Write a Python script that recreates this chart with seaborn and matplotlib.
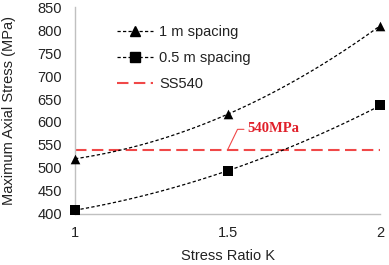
import numpy as np
import pandas as pd
import matplotlib
matplotlib.use("Agg")
import matplotlib.pyplot as plt
from matplotlib.lines import Line2D
from matplotlib.ticker import MultipleLocator
import seaborn as sns

# ---- data ----
stress_ratio = [1.0, 1.5, 2.0]
spacing_1m = [520, 617, 810]
spacing_05m = [408, 494, 636]
ss540_value = 540
series_labels = ["1 m spacing", "0.5 m spacing", "SS540"]
annotation_text = "540MPa"

sns.set_theme(style="white")
plt.rcParams["font.family"] = ["Liberation Sans", "DejaVu Sans"]

FS = 10.5
fig = plt.figure(figsize=(3.89, 2.65), dpi=100)
ax = fig.add_axes([0.193, 0.193, 0.785, 0.78])

dash = (2.6, 1.8)
for vals, mk in ((spacing_1m, "^"), (spacing_05m, "s")):
    # smoothed curve through the data points (quadratic, like Excel smoothed line)
    coef = np.polyfit(stress_ratio, vals, 2)
    sx = np.linspace(stress_ratio[0], stress_ratio[-1], 100)
    ax.plot(sx, np.polyval(coef, sx), color="black", lw=0.9, ls=(0, dash), zorder=2)
    sns.scatterplot(x=stress_ratio, y=vals, marker=mk, s=48, color="black",
                    edgecolor="black", linewidth=0, ax=ax, zorder=3, clip_on=False)

red = "#f04848"
red_dash = (0, (5.5, 2.6))
ax.axhline(ss540_value, color=red, lw=1.5, ls=red_dash, zorder=1)

# callout
ax.plot([1.5, 1.532, 1.553], [ss540_value, 584, 584], color=red, lw=0.8, zorder=2)
ax.text(1.565, 586, annotation_text, color="#e0202a", fontsize=FS, fontweight="bold",
        family=["Liberation Serif", "DejaVu Serif"], va="center", ha="left")

ax.set_xlim(1, 2)
ax.set_ylim(400, 850)
ax.set_xticks([1, 1.5, 2])
ax.set_xticklabels(["1", "1.5", "2"])
ax.xaxis.set_minor_locator(MultipleLocator(0.1))
ax.yaxis.set_major_locator(MultipleLocator(50))
ax.yaxis.set_minor_locator(MultipleLocator(10))

for s in ("top", "right"):
    ax.spines[s].set_visible(False)
for s in ("left", "bottom"):
    ax.spines[s].set_color("#c0c0c0")
    ax.spines[s].set_linewidth(1.0)

ax.tick_params(axis="both", which="major", direction="inout", length=6, width=0.8,
               color="#c0c0c0", labelsize=FS, labelcolor="#222222")
ax.tick_params(axis="both", which="minor", direction="in", length=3, width=0.6,
               color="#c0c0c0")
ax.tick_params(axis="y", which="minor", direction="inout", length=5)
ax.tick_params(axis="x", which="major", pad=6)
ax.tick_params(axis="y", which="major", pad=6.5)

ax.set_xlabel("Stress Ratio K", fontsize=FS, labelpad=6.5, color="#222222")
ax.set_ylabel("Maximum Axial Stress (MPa)", fontsize=FS, labelpad=15, color="#222222")

handles = [
    Line2D([], [], color="black", lw=0.9, ls=(0, dash), marker="^", markersize=6.5),
    Line2D([], [], color="black", lw=0.9, ls=(0, dash), marker="s", markersize=6.5),
    Line2D([], [], color=red, lw=1.5, ls=red_dash),
]
ax.legend(handles, series_labels, loc="upper left", bbox_to_anchor=(0.118, 0.94),
          frameon=False, fontsize=FS, handlelength=2.5, labelspacing=0.8,
          handletextpad=0.4, borderaxespad=0, labelcolor="#222222")

fig.savefig("out.png", dpi=100)
